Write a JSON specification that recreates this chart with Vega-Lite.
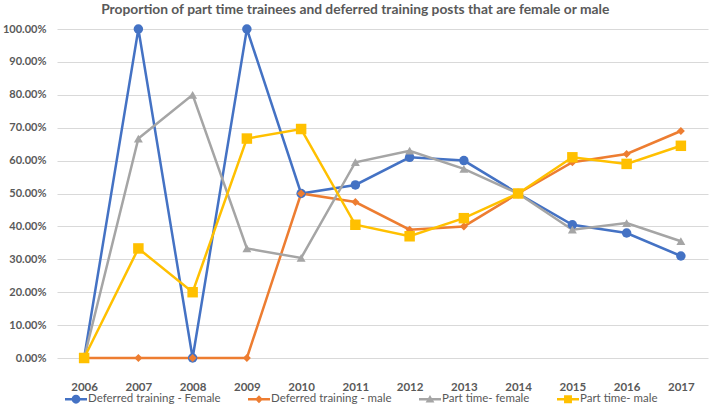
{
  "$schema": "https://vega.github.io/schema/vega-lite/v6.json",
  "width": 651,
  "height": 329,
  "autosize": "none",
  "padding": {"left": 57, "top": 29, "right": 1, "bottom": 51},
  "background": "white",
  "title": {
    "text": "Proportion of part time trainees and deferred training posts that are female or male",
    "anchor": "middle",
    "frame": "bounds",
    "fontSize": 13.8,
    "fontWeight": "bold",
    "color": "#595959",
    "font": "Lato",
    "offset": 6
  },
  "data": {
    "values": [
      {"year": "2006", "series": "Deferred training - Female", "value": 0},
      {"year": "2007", "series": "Deferred training - Female", "value": 1},
      {"year": "2008", "series": "Deferred training - Female", "value": 0},
      {"year": "2009", "series": "Deferred training - Female", "value": 1},
      {"year": "2010", "series": "Deferred training - Female", "value": 0.5},
      {"year": "2011", "series": "Deferred training - Female", "value": 0.526},
      {"year": "2012", "series": "Deferred training - Female", "value": 0.61},
      {"year": "2013", "series": "Deferred training - Female", "value": 0.6},
      {"year": "2014", "series": "Deferred training - Female", "value": 0.5},
      {"year": "2015", "series": "Deferred training - Female", "value": 0.405},
      {"year": "2016", "series": "Deferred training - Female", "value": 0.38},
      {"year": "2017", "series": "Deferred training - Female", "value": 0.31},
      {"year": "2006", "series": "Deferred training - male", "value": 0},
      {"year": "2007", "series": "Deferred training - male", "value": 0},
      {"year": "2008", "series": "Deferred training - male", "value": 0},
      {"year": "2009", "series": "Deferred training - male", "value": 0},
      {"year": "2010", "series": "Deferred training - male", "value": 0.5},
      {"year": "2011", "series": "Deferred training - male", "value": 0.474},
      {"year": "2012", "series": "Deferred training - male", "value": 0.39},
      {"year": "2013", "series": "Deferred training - male", "value": 0.4},
      {"year": "2014", "series": "Deferred training - male", "value": 0.5},
      {"year": "2015", "series": "Deferred training - male", "value": 0.595},
      {"year": "2016", "series": "Deferred training - male", "value": 0.62},
      {"year": "2017", "series": "Deferred training - male", "value": 0.69},
      {"year": "2006", "series": "Part time- female", "value": 0},
      {"year": "2007", "series": "Part time- female", "value": 0.667},
      {"year": "2008", "series": "Part time- female", "value": 0.8},
      {"year": "2009", "series": "Part time- female", "value": 0.333},
      {"year": "2010", "series": "Part time- female", "value": 0.304},
      {"year": "2011", "series": "Part time- female", "value": 0.595},
      {"year": "2012", "series": "Part time- female", "value": 0.63},
      {"year": "2013", "series": "Part time- female", "value": 0.575},
      {"year": "2014", "series": "Part time- female", "value": 0.5},
      {"year": "2015", "series": "Part time- female", "value": 0.39},
      {"year": "2016", "series": "Part time- female", "value": 0.41},
      {"year": "2017", "series": "Part time- female", "value": 0.355},
      {"year": "2006", "series": "Part  time- male", "value": 0},
      {"year": "2007", "series": "Part  time- male", "value": 0.333},
      {"year": "2008", "series": "Part  time- male", "value": 0.2},
      {"year": "2009", "series": "Part  time- male", "value": 0.667},
      {"year": "2010", "series": "Part  time- male", "value": 0.696},
      {"year": "2011", "series": "Part  time- male", "value": 0.405},
      {"year": "2012", "series": "Part  time- male", "value": 0.37},
      {"year": "2013", "series": "Part  time- male", "value": 0.425},
      {"year": "2014", "series": "Part  time- male", "value": 0.5},
      {"year": "2015", "series": "Part  time- male", "value": 0.61},
      {"year": "2016", "series": "Part  time- male", "value": 0.59},
      {"year": "2017", "series": "Part  time- male", "value": 0.645}
    ]
  },
  "encoding": {
    "x": {
      "field": "year",
      "type": "ordinal",
      "scale": {"type": "point", "padding": 0.5},
      "axis": {
        "title": null,
        "labelAngle": 0,
        "labelFontWeight": "bold",
        "labelFontSize": 11.5,
        "labelColor": "#595959",
        "labelFont": "Lato",
        "labelPadding": 23,
        "ticks": false,
        "domain": false,
        "grid": false
      }
    },
    "y": {
      "field": "value",
      "type": "quantitative",
      "scale": {"domain": [0, 1], "nice": false},
      "axis": {
        "title": null,
        "format": ".2%",
        "values": [0, 0.1, 0.2, 0.3, 0.4, 0.5, 0.6, 0.7, 0.8, 0.9, 1],
        "labelFontSize": 11,
        "labelFontWeight": "bold",
        "labelColor": "#595959",
        "labelFont": "Lato",
        "labelPadding": 11,
        "ticks": false,
        "domain": false,
        "gridColor": "#d9d9d9",
        "gridWidth": 1
      }
    },
    "color": {
      "field": "series",
      "type": "nominal",
      "sort": ["Deferred training - Female", "Deferred training - male", "Part time- female", "Part  time- male"],
      "scale": {
        "domain": ["Deferred training - Female", "Deferred training - male", "Part time- female", "Part  time- male"],
        "range": ["#4472C4", "#ED7D31", "#A5A5A5", "#FFC000"]
      },
      "legend": {
        "title": null,
        "orient": "bottom",
        "direction": "horizontal",
        "columns": 4,
        "offset": -13,
        "padding": 8,
        "columnPadding": 27,
        "symbolSize": 484,
        "symbolStrokeWidth": 0,
        "labelFontSize": 11.5,
        "labelColor": "#595959",
        "labelFont": "Lato",
        "labelOffset": 1,
        "encode": {
          "symbols": {
            "update": {
              "shape": {
                "signal": "datum.value == 'Deferred training - Female' ? 'M-1,-0.11H1V0.11H-1Z M0.4,0A0.4,0.4 0 1,1 -0.4,0A0.4,0.4 0 1,1 0.4,0Z' : datum.value == 'Deferred training - male' ? 'M-1,-0.11H1V0.11H-1Z M0,-0.36L0.36,0L0,0.36L-0.36,0Z' : datum.value == 'Part time- female' ? 'M-1,-0.11H1V0.11H-1Z M0,-0.38L0.4,0.3L-0.4,0.3Z' : 'M-1,-0.11H1V0.11H-1Z M-0.36,-0.36H0.36V0.36H-0.36Z'"
              },
              "size": {"value": 484},
              "fill": {"scale": "color", "field": "value"},
              "fillOpacity": {"value": 1},
              "strokeWidth": {"value": 0}
            }
          }
        }
      }
    }
  },
  "layer": [
    {
      "mark": {"type": "line", "strokeWidth": 2.5},
      "encoding": {"detail": {"field": "series"}}
    },
    {
      "transform": [{"filter": "datum.series == 'Deferred training - Female'"}],
      "mark": {"type": "point", "filled": true, "opacity": 1, "shape": "circle", "size": 90}
    },
    {
      "transform": [{"filter": "datum.series == 'Deferred training - male'"}],
      "mark": {"type": "point", "filled": true, "opacity": 1, "shape": "diamond", "size": 65}
    },
    {
      "transform": [{"filter": "datum.series == 'Part time- female'"}],
      "mark": {"type": "point", "filled": true, "opacity": 1, "shape": "triangle-up", "size": 80}
    },
    {
      "transform": [{"filter": "datum.series == 'Part  time- male'"}],
      "mark": {"type": "point", "filled": true, "opacity": 1, "shape": "square", "size": 110}
    }
  ],
  "config": {"view": {"stroke": null}}
}
